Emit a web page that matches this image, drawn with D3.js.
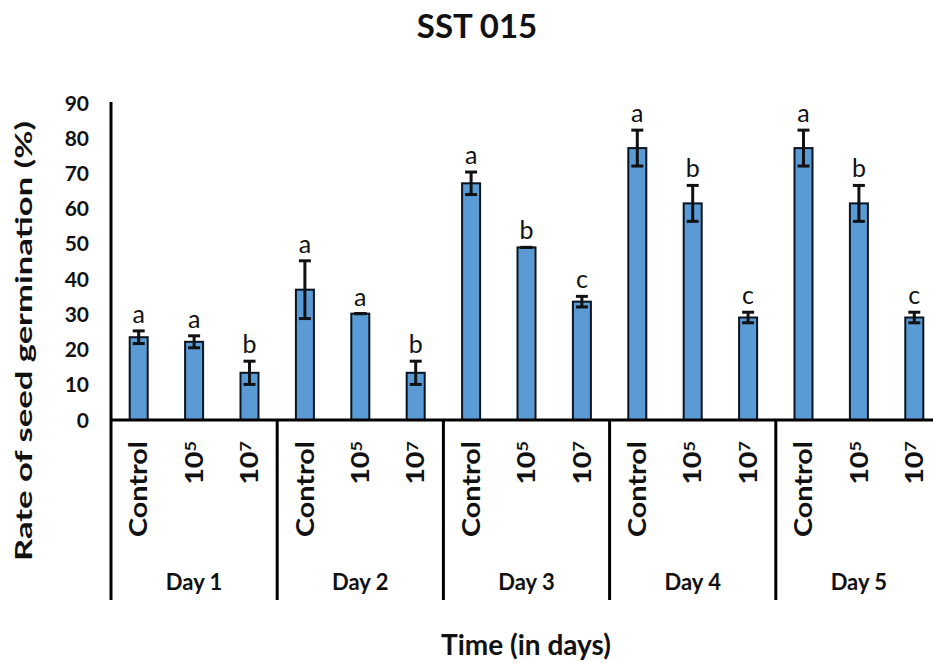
<!DOCTYPE html>
<html>
<head>
<meta charset="utf-8">
<script src="https://cdn.jsdelivr.net/npm/d3@7"></script>
<style>
  body { margin: 0; background: #fff; }
  text { font-family: Lato, "Open Sans", sans-serif; fill: #111; }
</style>
</head>
<body>
<div id="chart"></div>
<script>
// data
const days = ["Day 1", "Day 2", "Day 3", "Day 4", "Day 5"];
const treatments = ["Control", "10^5", "10^7"];
const values = [
    [23.5, 22.2, 13.4],
    [37.0, 30.2, 13.4],
    [67.2, 49.0, 33.6],
    [77.2, 61.5, 29.1],
    [77.2, 61.5, 29.1]
];
const errors = [
    [1.8, 1.7, 3.3],
    [8.2, 0, 3.3],
    [3.2, 0, 1.5],
    [5.1, 5.1, 1.5],
    [5.1, 5.1, 1.5]
];
const letters = [
    ["a", "a", "b"],
    ["a", "a", "b"],
    ["a", "b", "c"],
    ["a", "b", "c"],
    ["a", "b", "c"]
];
const yTicks = [0, 10, 20, 30, 40, 50, 60, 70, 80, 90];

const width = 933, height = 663;
const axisX = 111, plotRight = 942, yZero = 420, yTop = 103, sepBottom = 600;

let svg = d3.select("#chart")
    .append("svg")
    .attr("width", width)
    .attr("height", height);

// scales
let x0 = d3.scaleBand()
    .domain(days)
    .range([axisX, plotRight]);

let x1 = d3.scaleBand()
    .domain(treatments)
    .range([0, x0.bandwidth()])
    .paddingInner(0.675)
    .paddingOuter(0.3375);

let y = d3.scaleLinear()
    .domain([0, 90])
    .range([yZero, yTop]);

// flatten into rows
let rows = [];
days.forEach((day, i) => {
    treatments.forEach((t, j) => {
        rows.push({ day: day, t: t, v: values[i][j], e: errors[i][j], l: letters[i][j] });
    });
});

// title
svg.append("text")
    .attr("x", 477)
    .attr("y", 38)
    .attr("text-anchor", "middle")
    .style("font-size", "33px")
    .style("font-weight", "bold")
    .text("SST 015");

// y tick labels (no tick marks)
svg.append("g")
    .selectAll("text")
    .data(yTicks)
    .enter()
    .append("text")
    .attr("x", axisX - 22)
    .attr("y", d => y(d))
    .attr("dy", "0.36em")
    .attr("text-anchor", "end")
    .style("font-size", "21px")
    .style("font-weight", "bold")
    .text(d => d);

// y axis title
svg.append("text")
    .attr("transform", `translate(32, 341) rotate(-90)`)
    .attr("text-anchor", "middle")
    .attr("textLength", 440)
    .attr("lengthAdjust", "spacingAndGlyphs")
    .style("font-size", "23px")
    .style("font-weight", "bold")
    .text("Rate of seed germination (%)");

// bars
const barX = d => x0(d.day) + x1(d.t);
svg.append("g")
    .selectAll("rect")
    .data(rows)
    .enter()
    .append("rect")
    .attr("x", barX)
    .attr("y", d => y(d.v))
    .attr("width", x1.bandwidth())
    .attr("height", d => yZero - y(d.v))
    .attr("fill", "#5b9bd5")
    .attr("stroke", "#0b1320")
    .attr("stroke-width", 2);

// error bars
const capW = 12;
let eb = svg.append("g")
    .attr("stroke", "#111")
    .attr("stroke-width", 3);
rows.forEach(d => {
    let cx = barX(d) + x1.bandwidth() / 2;
    if (d.e > 0) {
        eb.append("line")
            .attr("x1", cx).attr("x2", cx)
            .attr("y1", y(d.v + d.e)).attr("y2", y(d.v - d.e));
    }
    [d.v + d.e, d.v - d.e].forEach(val => {
        eb.append("line")
            .attr("x1", cx - capW / 2).attr("x2", cx + capW / 2)
            .attr("y1", y(val)).attr("y2", y(val));
    });
});

// significance letters
svg.append("g")
    .selectAll("text")
    .data(rows)
    .enter()
    .append("text")
    .attr("x", d => barX(d) + x1.bandwidth() / 2)
    .attr("y", d => y(d.v + d.e) - 8)
    .attr("text-anchor", "middle")
    .style("font-size", "25px")
    .text(d => d.l);

// axes lines
svg.append("line")
    .attr("x1", axisX).attr("x2", axisX)
    .attr("y1", y(90) - 1).attr("y2", sepBottom)
    .attr("stroke", "#000").attr("stroke-width", 3);

svg.append("line")
    .attr("x1", axisX).attr("x2", plotRight)
    .attr("y1", yZero).attr("y2", yZero)
    .attr("stroke", "#000").attr("stroke-width", 3);

// group separators
svg.append("g")
    .selectAll("line")
    .data(days)
    .enter()
    .append("line")
    .attr("x1", d => x0(d) + x0.bandwidth())
    .attr("x2", d => x0(d) + x0.bandwidth())
    .attr("y1", yZero)
    .attr("y2", sepBottom)
    .attr("stroke", "#000")
    .attr("stroke-width", 3);

// treatment labels (rotated, a bit stretched like the original)
let cat = svg.append("g")
    .selectAll("text")
    .data(rows)
    .enter()
    .append("text")
    .attr("transform", d => `translate(${barX(d) + x1.bandwidth() / 2}, 441) rotate(-90) scale(1.2, 1)`)
    .attr("dy", "0.36em")
    .attr("text-anchor", "end")
    .style("font-size", "24px")
    .style("font-weight", "bold");

cat.each(function (d) {
    let el = d3.select(this);
    if (d.t.indexOf("^") > -1) {
        let parts = d.t.split("^");
        el.append("tspan").text(parts[0]);
        el.append("tspan")
            .attr("dy", "-0.45em")
            .style("font-size", "15px")
            .text(parts[1]);
    } else {
        el.text(d.t);
    }
});

// day labels
svg.append("g")
    .selectAll("text")
    .data(days)
    .enter()
    .append("text")
    .attr("x", d => x0(d) + x0.bandwidth() / 2)
    .attr("y", 590)
    .attr("text-anchor", "middle")
    .style("font-size", "22px")
    .style("font-weight", "bold")
    .text(d => d);

// x axis title
svg.append("text")
    .attr("x", 526)
    .attr("y", 655)
    .attr("text-anchor", "middle")
    .style("font-size", "28px")
    .style("font-weight", "bold")
    .text("Time (in days)");
</script>
</body>
</html>
